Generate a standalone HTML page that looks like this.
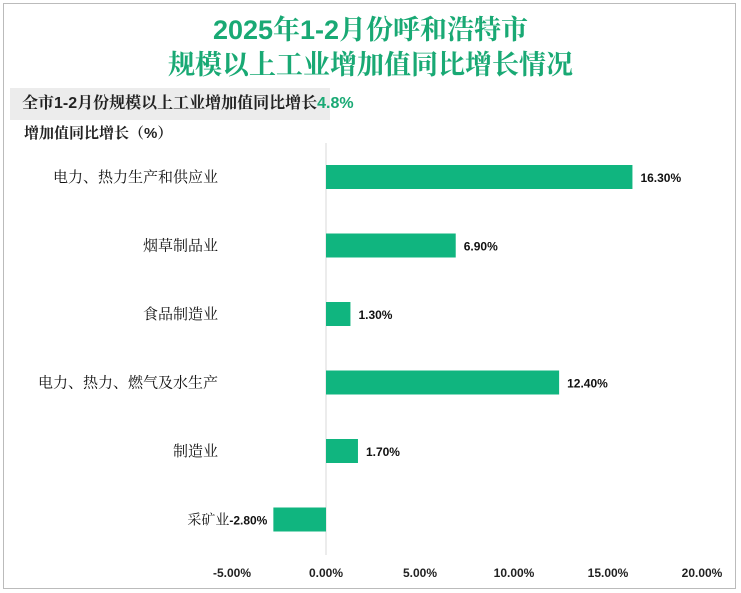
<!DOCTYPE html>
<html><head><meta charset="utf-8"><style>
body{margin:0;background:#fff;font-family:"Liberation Sans","Noto Serif CJK SC",serif}
#wrap{position:relative;width:741px;height:593px;overflow:hidden}
.frame{position:absolute;left:3px;top:3px;width:733px;height:586px;border:1px solid #bbb;box-sizing:border-box}
.t{position:absolute;left:0;width:741px;text-align:center;color:#19a974;font-weight:bold;font-size:27px;line-height:32px;font-family:"Liberation Sans","Noto Serif CJK SC",serif}
.band{position:absolute;left:10px;top:88px;width:320px;height:32px;background:#ececec}
.sub{position:absolute;left:22px;top:92px;font-size:16px;font-weight:bold;color:#222;line-height:24px}
.yt{position:absolute;left:24px;top:122px;font-size:15px;font-weight:bold;color:#222}
</style></head><body>
<div id="wrap">
<div class="frame"></div>
<div class="t" style="top:14px">2025年1-2月份呼和浩特市</div>
<div class="t" style="top:49px">规模以上工业增加值同比增长情况</div>
<div class="band"></div>
<div class="sub">全市1-2月份规模以上工业增加值同比增长<span style="color:#19a974">4.8%</span></div>
<div class="yt">增加值同比增长（%）</div>
<svg id="svg" width="741" height="593" style="position:absolute;left:0;top:0"></svg>
</div>
<script>
const categories=["电力、热力生产和供应业","烟草制品业","食品制造业","电力、热力、燃气及水生产","制造业","采矿业"];
const values=[16.3,6.9,1.3,12.4,1.7,-2.8];
const ticks=[-5,0,5,10,15,20];
const NS="http://www.w3.org/2000/svg";
const svg=document.getElementById('svg');
const FF='Liberation Sans, Noto Serif CJK SC, serif';
const x=v=>326+(v)*18.8;
const y=i=>177+i*68.5;
function mk(t,a){const e=document.createElementNS(NS,t);for(const k in a)e.setAttribute(k,a[k]);svg.appendChild(e);return e;}
let ax=mk('line',{x1:x(0),x2:x(0),y1:143,y2:555,stroke:'#d9d9d9','stroke-width':1});


ticks.forEach(t=>{
 const e=mk('text',{x:x(t),y:577,'text-anchor':'middle','font-size':12,'font-weight':'bold',fill:'#222','font-family':'Liberation Sans, sans-serif'});
 e.textContent=t.toFixed(2)+'%';
 
 
});
categories.forEach((c,i)=>{
 const v=values[i];const x0=Math.min(x(0),x(v));const w=Math.abs(x(v)-x(0));
 const r=mk('rect',{x:x0,y:y(i)-12,width:w,height:24,fill:'#10b57f'});
 
 
 if(v<0){
  const l2=mk('text',{x:x(v)-6,y:y(i)+5,'text-anchor':'end','font-size':14,fill:'#111','font-family':FF});
  l2.innerHTML=c+'<tspan font-size="12" font-weight="bold" font-family="Liberation Sans, sans-serif">'+v.toFixed(2)+'%</tspan>';
  
  
 } else {
  const lbl=mk('text',{x:218,y:y(i)+5,'text-anchor':'end','font-size':15,fill:'#111','font-family':FF});
  lbl.textContent=c;
  
  
  const vl=mk('text',{x:x(v)+8,y:y(i)+5,'font-size':12,'font-weight':'bold',fill:'#111','font-family':'Liberation Sans, sans-serif'});
  vl.textContent=v.toFixed(2)+'%';
  
  
 }
});
</script>
</body></html>
